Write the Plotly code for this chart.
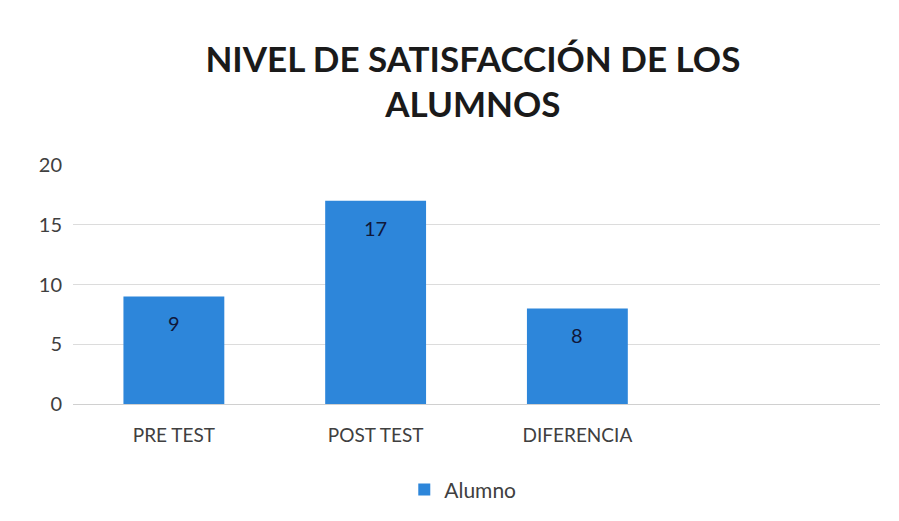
import plotly.graph_objects as go

categories = ["PRE TEST", "POST TEST", "DIFERENCIA"]
values = [9, 17, 8]
series_name = "Alumno"
y_ticks = [0, 5, 10, 15, 20]

font_family = "Lato, Open Sans, sans-serif"
text_color = "#404040"
bar_color = "#2d86da"

fig = go.Figure()
fig.add_trace(go.Bar(
    x=categories,
    y=values,
    name=series_name,
    marker=dict(color=bar_color, line=dict(width=0)),
    width=0.5,
    showlegend=True,
))

# Value labels placed just inside the top of each bar
for cat, val in zip(categories, values):
    fig.add_annotation(
        x=cat,
        y=val,
        text=str(val),
        showarrow=False,
        yanchor="middle",
        yshift=-27,
        font=dict(family=font_family, size=20, color="#10183a"),
    )

fig.update_layout(
    width=899,
    height=521,
    paper_bgcolor="white",
    plot_bgcolor="white",
    margin=dict(l=73, r=19, t=165, b=116),
    title=dict(
        text="<b>NIVEL DE SATISFACCIÓN DE LOS<br>ALUMNOS</b>",
        x=0.526,
        xanchor="center",
        y=0.862,
        yanchor="top",
        font=dict(family=font_family, size=35, color="#1a1a1a"),
    ),
    xaxis=dict(
        type="category",
        range=[-0.5, 3.5],
        showgrid=False,
        showline=True,
        linecolor="#d0d0d0",
        linewidth=1,
        ticks="",
        ticklabelstandoff=14,
        tickfont=dict(family=font_family, size=19, color=text_color),
    ),
    yaxis=dict(
        range=[0, 20],
        tickvals=y_ticks,
        showgrid=True,
        gridcolor="#dcdcdc",
        gridwidth=1,
        zeroline=False,
        showline=False,
        ticks="",
        ticklabelstandoff=10,
        tickfont=dict(family=font_family, size=20, color=text_color),
    ),
    legend=dict(
        orientation="h",
        x=0.483,
        xanchor="center",
        y=-0.354,
        yanchor="middle",
        font=dict(family=font_family, size=21, color=text_color),
        itemwidth=30,
    ),
    bargap=0.5,
)

fig.write_html("out.html")
